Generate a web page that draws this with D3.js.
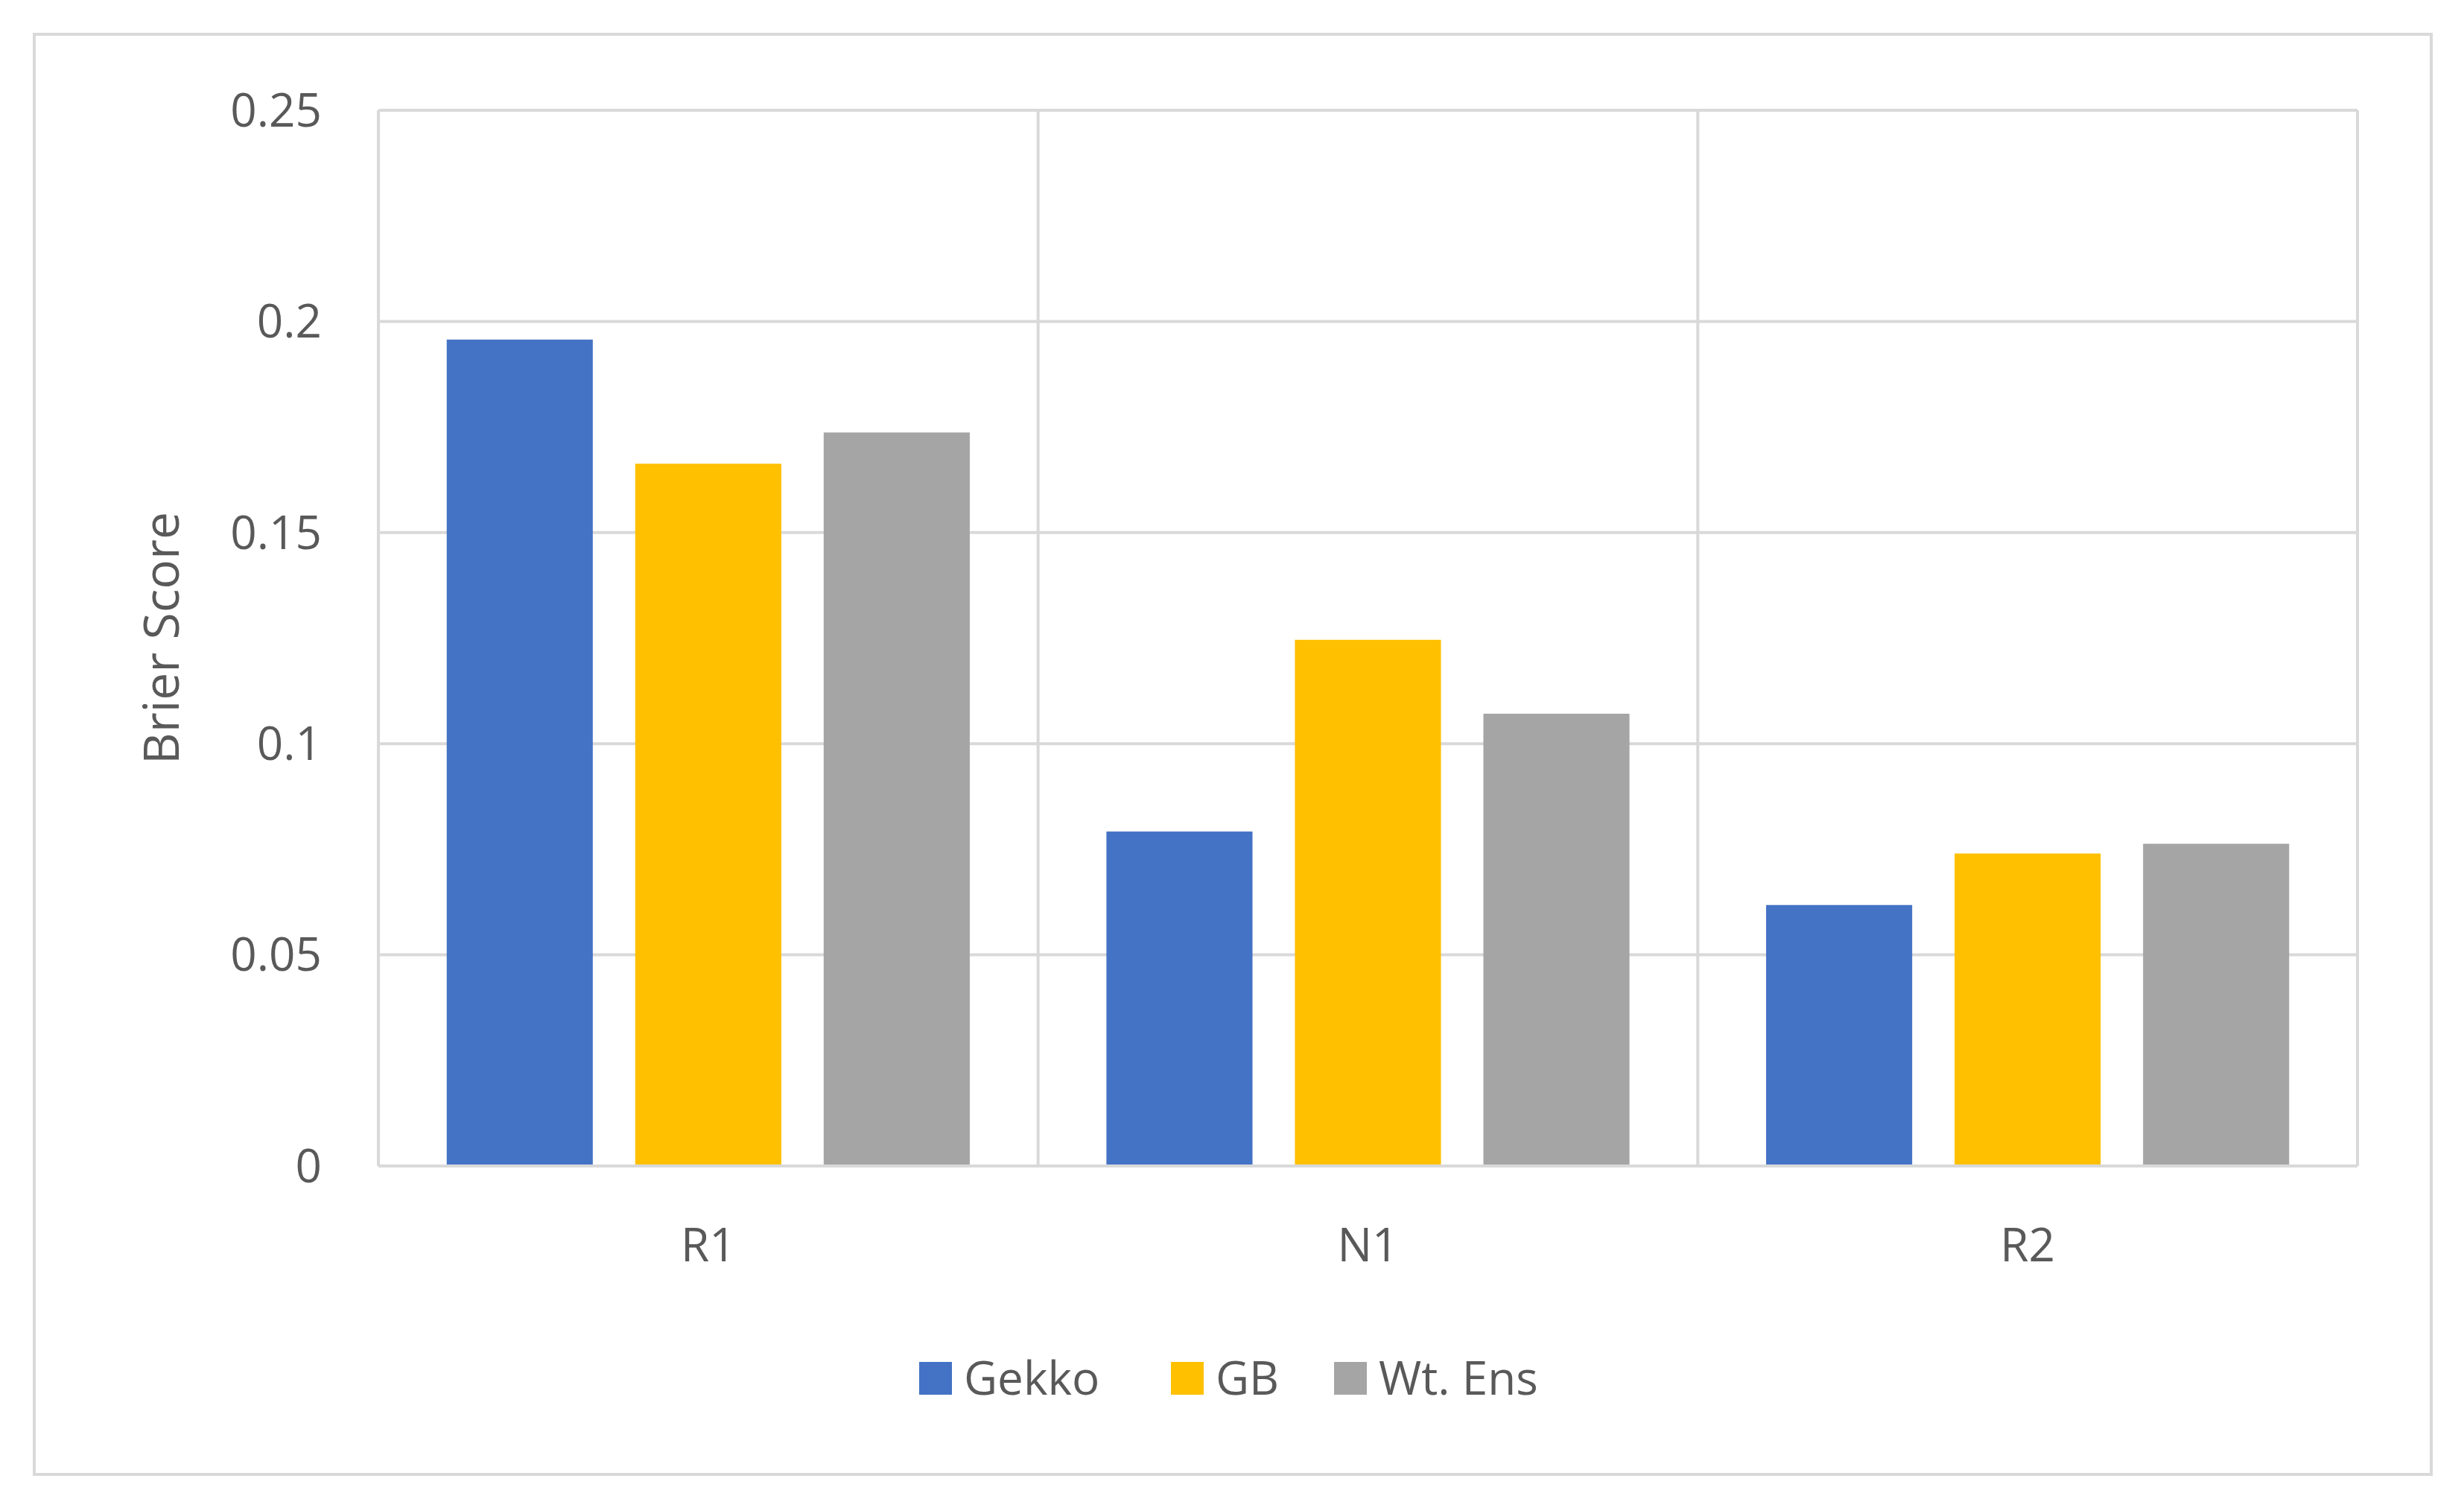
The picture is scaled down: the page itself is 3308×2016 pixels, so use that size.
<!DOCTYPE html>
<html><head><meta charset="utf-8">
<script src="https://cdn.jsdelivr.net/npm/d3@7"></script>
<style>body{margin:0;background:#fff}</style></head>
<body><svg id="c" width="3308" height="2016"></svg>
<script>
const categories = ["R1","N1","R2"];
const series = ["Gekko","GB","Wt. Ens"];
const colors = ["#4472C4","#FFC000","#A5A5A5"];
const gekko = [0.1957,0.0792,0.0618];
const gb = [0.1663,0.1246,0.0740];
const wtEns = [0.1737,0.1071,0.0763];
const yTicks = [0,0.05,0.1,0.15,0.2,0.25];
const yTickLabels = ["0","0.05","0.1","0.15","0.2","0.25"];
const values = [gekko, gb, wtEns];

const svg = d3.select("#c");
const font = "'Open Sans', 'Segoe UI', sans-serif";
svg.append("rect").attr("x",46).attr("y",46).attr("width",3218).attr("height",1933)
  .attr("fill","#fff").attr("stroke","#d9d9d9").attr("stroke-width",4);
const L=508,R=3165,T=148,B=1565;
const y = d3.scaleLinear().domain([0,0.25]).range([B,T]);
const x0 = d3.scaleBand().domain(categories).range([L,R]);
const x1 = d3.scaleBand().domain(series).range([0,x0.bandwidth()]).paddingInner(0.225).paddingOuter(0.3625);
const g = svg.append("g");
yTicks.forEach((t,i)=>{
  g.append("line").attr("x1",L).attr("x2",R).attr("y1",y(t)).attr("y2",y(t))
   .attr("stroke","#d9d9d9").attr("stroke-width",4);
  g.append("text").attr("x",432).attr("y",y(t)).attr("dy","0.35em").attr("text-anchor","end")
   .attr("font-family",font).attr("font-size",62).attr("fill","#595959").text(yTickLabels[i]);
});
[L,...categories.map(c=>x0(c)+x0.bandwidth())].forEach(v=>{
  g.append("line").attr("x1",v).attr("x2",v).attr("y1",T).attr("y2",B)
   .attr("stroke","#d9d9d9").attr("stroke-width",4);
});
categories.forEach((c,ci)=>{
  series.forEach((s,si)=>{
    const v=values[si][ci];
    g.append("rect").attr("x",x0(c)+x1(s)).attr("width",x1.bandwidth())
     .attr("y",y(v)).attr("height",y(0)-y(v)).attr("fill",colors[si]);
  });
  g.append("text").attr("x",x0(c)+x0.bandwidth()/2).attr("y",1671).attr("dy","0.35em")
   .attr("text-anchor","middle").attr("font-family",font).attr("font-size",62).attr("fill","#595959").text(c);
});
g.append("line").attr("x1",L).attr("x2",R).attr("y1",B).attr("y2",B).attr("stroke","#d9d9d9").attr("stroke-width",4);
svg.append("text").attr("transform","translate(217,"+((T+B)/2)+") rotate(-90)").attr("dy","0.35em")
  .attr("text-anchor","middle").attr("font-family",font).attr("font-size",66).attr("fill","#595959").text("Brier Score");
const legX=[1234,1572,1791];
series.forEach((s,i)=>{
  svg.append("rect").attr("x",legX[i]).attr("y",1828).attr("width",44).attr("height",44).attr("fill",colors[i]);
  svg.append("text").attr("x",legX[i]+60).attr("y",1850).attr("dy","0.35em")
   .attr("font-family",font).attr("font-size",62).attr("fill","#595959").text(s);
});
</script></body></html>
